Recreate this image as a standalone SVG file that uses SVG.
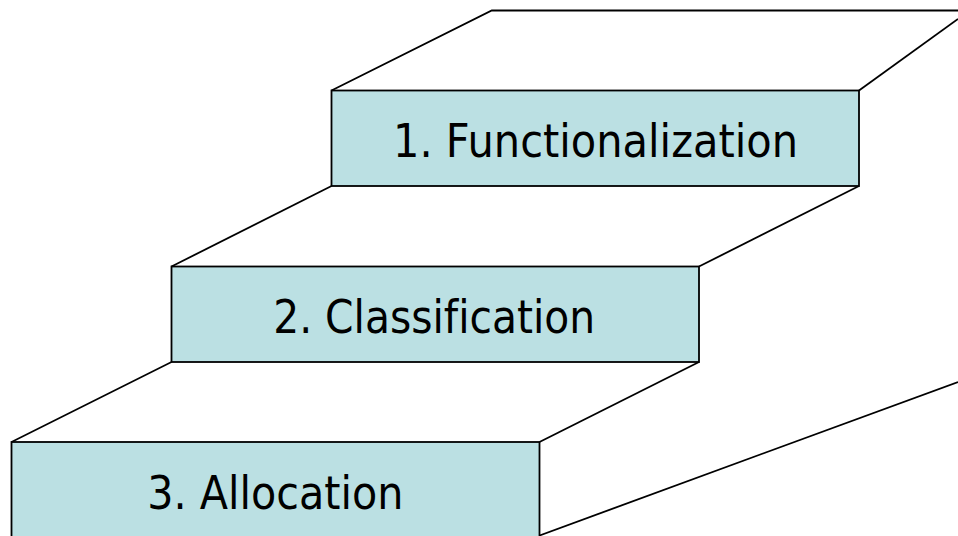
<svg xmlns="http://www.w3.org/2000/svg" width="958" height="536" viewBox="0 0 958 536">
  <style>
    .edge { fill: none; stroke: #000; stroke-width: 1.8; stroke-linejoin: miter; }
    .face { fill: #BBE0E3; stroke: #000; stroke-width: 1.8; }
    .label { font-family: "DejaVu Sans", "Liberation Sans", sans-serif; font-size: 46px; fill: #000; text-anchor: middle; font-variant-ligatures: none; font-feature-settings: "liga" 0; }
  </style>
  <rect width="958" height="536" fill="#fff"/>

  <!-- tread outlines of the staircase -->
  <g id="treads">
    <polyline class="edge" points="331.5,90.5 491.8,10.5 958,10.5"/>
    <line class="edge" x1="859" y1="90.5" x2="958" y2="19"/>
    <line class="edge" x1="171.5" y1="266.5" x2="331.5" y2="186"/>
    <line class="edge" x1="699" y1="266.5" x2="859" y2="186"/>
    <line class="edge" x1="11.5" y1="442" x2="171.5" y2="362"/>
    <line class="edge" x1="539.5" y1="442" x2="699" y2="362"/>
    <line class="edge" x1="539.5" y1="535.5" x2="958" y2="382"/>
  </g>

  <g id="step1">
    <rect class="face" x="331.5" y="90.5" width="527.5" height="95.5"/>
    <text class="label" x="595.5" y="157.3" textLength="405" lengthAdjust="spacingAndGlyphs">1. Functionalization</text>
  </g>

  <g id="step2">
    <rect class="face" x="171.5" y="266.5" width="527.5" height="95.5"/>
    <text class="label" x="434.2" y="333.3" textLength="322" lengthAdjust="spacingAndGlyphs">2. Classification</text>
  </g>

  <g id="step3">
    <rect class="face" x="11.5" y="442" width="528" height="100"/>
    <text class="label" x="275.3" y="509.3" textLength="256" lengthAdjust="spacingAndGlyphs">3. Allocation</text>
  </g>
</svg>
